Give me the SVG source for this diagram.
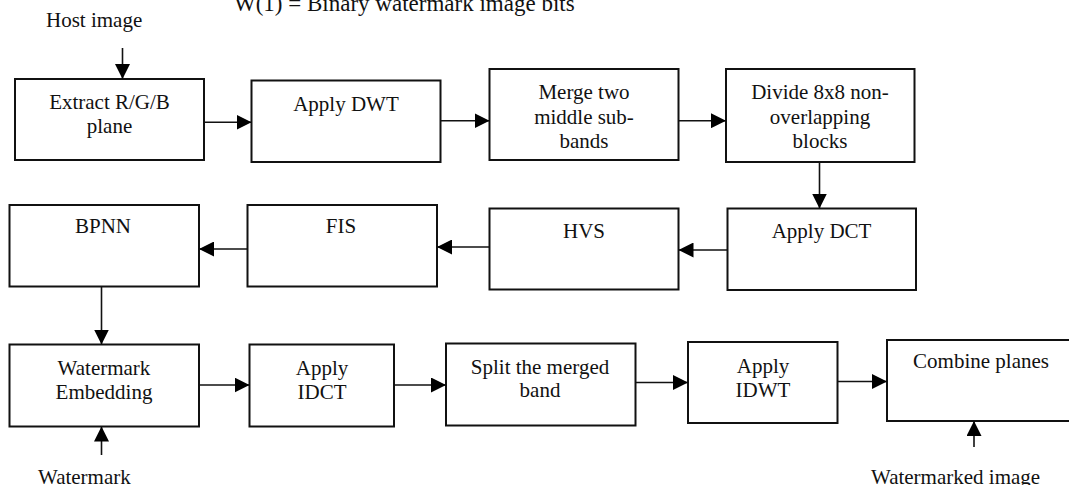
<svg xmlns="http://www.w3.org/2000/svg" width="1069" height="485" viewBox="0 0 1069 485">
<style>
  .box { fill: #fff; stroke: #111; stroke-width: 2; }
  .t { font-family: "Liberation Serif", "Times New Roman", serif; font-size: 21px; fill: #111; text-anchor: middle; }
  .lbl { font-family: "Liberation Serif", "Times New Roman", serif; font-size: 21px; fill: #111; }
  .c { stroke: #111; stroke-width: 1.6; fill: none; marker-end: url(#ah); }
</style>
<defs>
  <marker id="ah" markerUnits="userSpaceOnUse" markerWidth="15" markerHeight="15" refX="15" refY="7.5" orient="auto">
    <path d="M0,0 L15,7.5 L0,15 z" fill="#000"/>
  </marker>
</defs>
<rect width="1069" height="485" fill="#fff"/>

<text class="lbl" x="234" y="11" style="font-size:23px">W(1) = Binary watermark image bits</text>
<text class="lbl" x="46" y="27">Host image</text>
<text class="lbl" x="38" y="484">Watermark</text>
<text class="lbl" x="871" y="484">Watermarked image</text>

<g id="n1"><rect class="box" x="15" y="79" width="189" height="81"/>
  <text class="t" x="109.5" y="109">Extract R/G/B</text><text class="t" x="109.5" y="133">plane</text></g>
<g id="n2"><rect class="box" x="251.5" y="80.5" width="189" height="81.5"/>
  <text class="t" x="346" y="111">Apply DWT</text></g>
<g id="n3"><rect class="box" x="489.5" y="69" width="189" height="91"/>
  <text class="t" x="584" y="99">Merge two</text><text class="t" x="584" y="123.5">middle sub-</text><text class="t" x="584" y="147.5">bands</text></g>
<g id="n4"><rect class="box" x="726" y="69" width="188.5" height="93"/>
  <text class="t" x="820" y="99">Divide 8x8 non-</text><text class="t" x="820" y="123.5">overlapping</text><text class="t" x="820" y="147.5">blocks</text></g>
<g id="n5"><rect class="box" x="727.5" y="208.5" width="188.5" height="81.5"/>
  <text class="t" x="821.5" y="238">Apply DCT</text></g>
<g id="n6"><rect class="box" x="489.5" y="208.5" width="189" height="81"/>
  <text class="t" x="584" y="238">HVS</text></g>
<g id="n7"><rect class="box" x="247.5" y="205" width="189.5" height="81.5"/>
  <text class="t" x="341" y="233">FIS</text></g>
<g id="n8"><rect class="box" x="9.5" y="205" width="189.5" height="81.5"/>
  <text class="t" x="103" y="233">BPNN</text></g>
<g id="n9"><rect class="box" x="9.5" y="344.5" width="189.5" height="82"/>
  <text class="t" x="104" y="375">Watermark</text><text class="t" x="104" y="398.5">Embedding</text></g>
<g id="n10"><rect class="box" x="249.5" y="344.5" width="144.5" height="82"/>
  <text class="t" x="322" y="375">Apply</text><text class="t" x="322" y="398.5">IDCT</text></g>
<g id="n11"><rect class="box" x="446" y="343.5" width="189.5" height="82"/>
  <text class="t" x="540" y="373.5">Split the merged</text><text class="t" x="540" y="397">band</text></g>
<g id="n12"><rect class="box" x="688" y="342" width="149.5" height="81"/>
  <text class="t" x="763" y="373">Apply</text><text class="t" x="763" y="396.5">IDWT</text></g>
<g id="n13"><rect class="box" x="887" y="340" width="190" height="81"/>
  <text class="t" x="981" y="368">Combine planes</text></g>

<g id="connectors">
  <line class="c" x1="122.5" y1="48" x2="122.5" y2="79"/>
  <line class="c" x1="204" y1="122.3" x2="251.5" y2="122.3"/>
  <line class="c" x1="440.5" y1="120.7" x2="489.5" y2="120.7"/>
  <line class="c" x1="678.5" y1="120.7" x2="726" y2="120.7"/>
  <line class="c" x1="819.5" y1="162" x2="819.5" y2="208.5"/>
  <line class="c" x1="727.5" y1="250" x2="678.5" y2="250"/>
  <line class="c" x1="489.5" y1="247" x2="437" y2="247"/>
  <line class="c" x1="247.5" y1="249" x2="199" y2="249"/>
  <line class="c" x1="101.5" y1="286.5" x2="101.5" y2="344.5"/>
  <line class="c" x1="101.5" y1="455" x2="101.5" y2="426.5"/>
  <line class="c" x1="199" y1="385" x2="249.5" y2="385"/>
  <line class="c" x1="394" y1="385" x2="446" y2="385"/>
  <line class="c" x1="635.5" y1="382.5" x2="688" y2="382.5"/>
  <line class="c" x1="837.5" y1="381.5" x2="887" y2="381.5"/>
  <line class="c" x1="974" y1="447" x2="974" y2="421"/>
</g>
</svg>
